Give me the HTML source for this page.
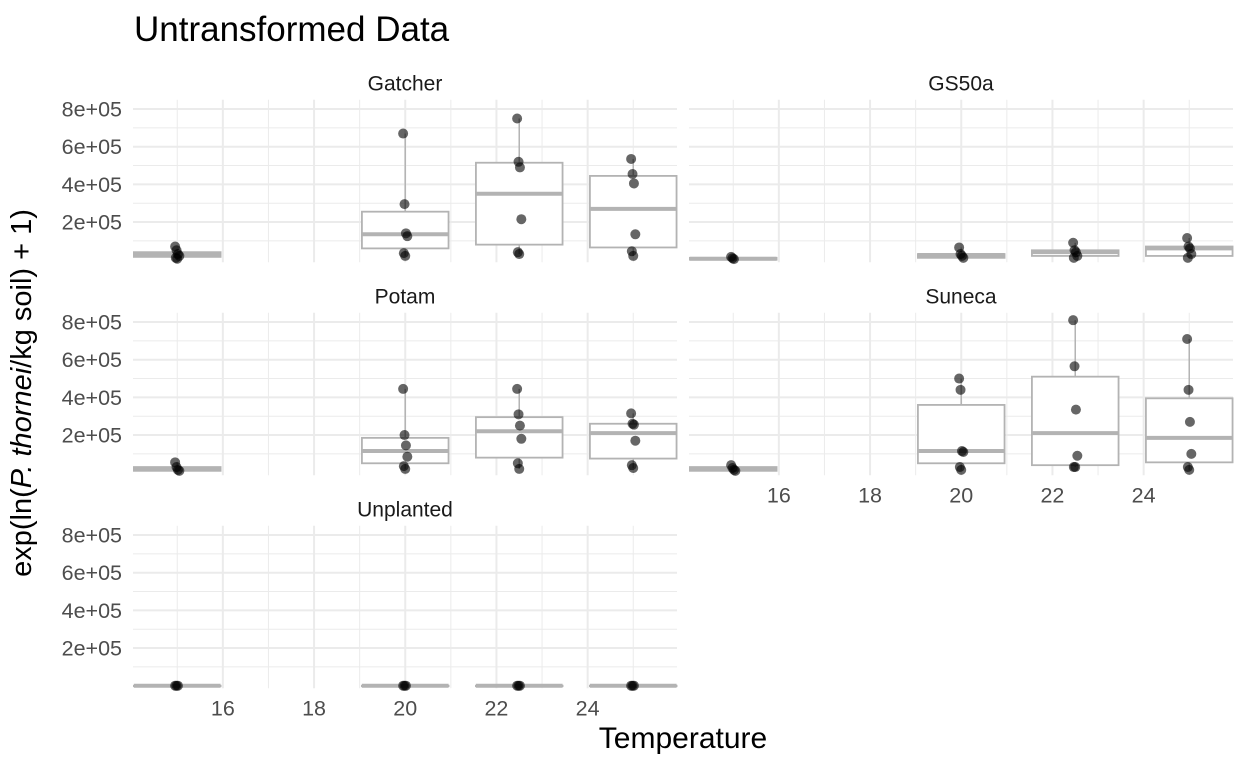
<!DOCTYPE html><html><head><style>body{margin:0;background:#fff}svg{display:block}</style></head><body>
<svg id="s" width="1248" height="768" xmlns="http://www.w3.org/2000/svg" font-family="Liberation Sans, sans-serif"></svg>
<script>
const S=document.getElementById('s');let h='';
h+='<text x="134" y="41" font-size="35" fill="#000">Untransformed Data</text>';
const panels=[
{n:'Gatcher',x0:133,y0:259.7,xt:false,d:{15:[1.5e4,4e4,3e4,0,4e4,[7e4,5e4,3e4,2e4,1e4,5e3]],20:[6e4,2.55e5,1.35e5,2e4,6.7e5,[6.7e5,2.95e5,1.4e5,1.25e5,3.5e4,2e4]],22.5:[8e4,5.15e5,3.5e5,3e4,7.5e5,[7.5e5,5.2e5,4.9e5,2.15e5,4e4,3e4]],25:[6.5e4,4.45e5,2.7e5,2e4,5.35e5,[5.35e5,4.55e5,4.05e5,1.35e5,4.5e4,2e4]]}},
{n:'GS50a',x0:689,y0:259.7,xt:false,d:{15:[0,1e4,5e3,0,1.5e4,[1.5e4,8e3,3e3]],20:[1e4,3e4,2.5e4,0,6.5e4,[6.5e4,3e4,2e4,1e4]],22.5:[2e4,5e4,4e4,1e4,9e4,[9e4,5e4,4e4,2e4,1e4]],25:[2e4,7e4,6e4,5e3,1.15e5,[1.15e5,7e4,6e4,3e4,1e4]]}},
{n:'Potam',x0:133,y0:472.7,xt:false,d:{15:[1e4,3e4,2e4,0,5.5e4,[5.5e4,3e4,1.5e4,1e4]],20:[5e4,1.85e5,1.15e5,2e4,4.45e5,[4.45e5,2e5,1.45e5,8.5e4,3.5e4,2e4]],22.5:[8e4,2.95e5,2.2e5,2e4,4.45e5,[4.45e5,3.1e5,2.5e5,1.8e5,5e4,2e4]],25:[7.5e4,2.6e5,2.1e5,2.5e4,3.15e5,[3.15e5,2.6e5,2.55e5,1.7e5,4e4,2.5e4]]}},
{n:'Suneca',x0:689,y0:472.7,xt:true,d:{15:[1e4,3e4,2e4,0,4e4,[4e4,2.5e4,1.5e4,1e4]],20:[5e4,3.6e5,1.15e5,1.5e4,5e5,[5e5,4.4e5,1.15e5,1.1e5,3e4,1.5e4]],22.5:[4e4,5.1e5,2.1e5,3e4,8.1e5,[8.1e5,5.65e5,3.35e5,9e4,3e4,3e4]],25:[5.5e4,3.95e5,1.85e5,1.5e4,7.1e5,[7.1e5,4.4e5,2.7e5,1e5,3e4,1.5e4]]}},
{n:'Unplanted',x0:133,y0:685.7,xt:true,d:{15:[0,0,0,0,0,[0,0,0]],20:[0,0,0,0,0,[0,0,0]],22.5:[0,0,0,0,0,[0,0,0]],25:[0,0,0,0,0,[0,0,0]]}}];
const K=45.6,Y=18.83/1e5,W=544;
panels.forEach(p=>{
 const X=v=>p.x0+(v-14.03)*K, Yv=v=>p.y0-v*Y, top=p.y0-160, bot=p.y0+2.5;
 for(let v=1e5;v<=8e5;v+=1e5){const maj=v%2e5==0;h+=`<line x1="${p.x0}" x2="${p.x0+W}" y1="${Yv(v)}" y2="${Yv(v)}" stroke="#ebebeb" stroke-width="${maj?2:1}"/>`;}
 for(let v=15;v<=25;v++){const maj=v%2==0;h+=`<line x1="${X(v)}" x2="${X(v)}" y1="${top}" y2="${bot}" stroke="#ebebeb" stroke-width="${maj?2:1}"/>`;}
 h+=`<text x="${p.x0+W/2}" y="${top-9}" font-size="21" text-anchor="middle" fill="#1a1a1a">${p.n}</text>`;
 if(p.x0<300){[2,4,6,8].forEach(k=>h+=`<text x="122" y="${Yv(k*1e5)+7.5}" font-size="21.5" text-anchor="end" fill="#4d4d4d">${k}e+05</text>`);}
 if(p.xt){[16,18,20,22,24].forEach(k=>h+=`<text x="${X(k)}" y="${p.y0+30}" font-size="21.5" text-anchor="middle" fill="#4d4d4d">${k}</text>`);}
 for(const key in p.d){const t=parseFloat(key),[q1,q3,m,lo,hi,pts]=p.d[key];const cx=X(t),l=X(t-0.95),r=X(t+0.95);
  h+=`<line x1="${cx}" x2="${cx}" y1="${Yv(hi)}" y2="${Yv(q3)}" stroke="#b3b3b3" stroke-width="1.5"/><line x1="${cx}" x2="${cx}" y1="${Yv(q1)}" y2="${Yv(lo)}" stroke="#b3b3b3" stroke-width="1.5"/>`;
  h+=`<rect x="${l}" y="${Yv(q3)}" width="${r-l}" height="${Math.max(Yv(q1)-Yv(q3),0.5)}" fill="#fff" stroke="#b3b3b3" stroke-width="1.8"/>`;
  h+=`<line x1="${l}" x2="${r}" y1="${Yv(m)}" y2="${Yv(m)}" stroke="#b3b3b3" stroke-width="4"/>`;
  pts.forEach((v,i)=>{h+=`<circle cx="${cx+((i*37)%7-3)*0.7}" cy="${Yv(v)}" r="5" fill="#000" fill-opacity="0.6"/>`;});}
});
h+='<text x="683" y="748" font-size="30" text-anchor="middle" fill="#000">Temperature</text>';
h+='<text transform="translate(31,393) rotate(-90)" font-size="29" text-anchor="middle" fill="#000">exp(ln(<tspan font-style="italic">P. thornei</tspan>/kg soil) + 1)</text>';
S.innerHTML=h;
</script></body></html>
